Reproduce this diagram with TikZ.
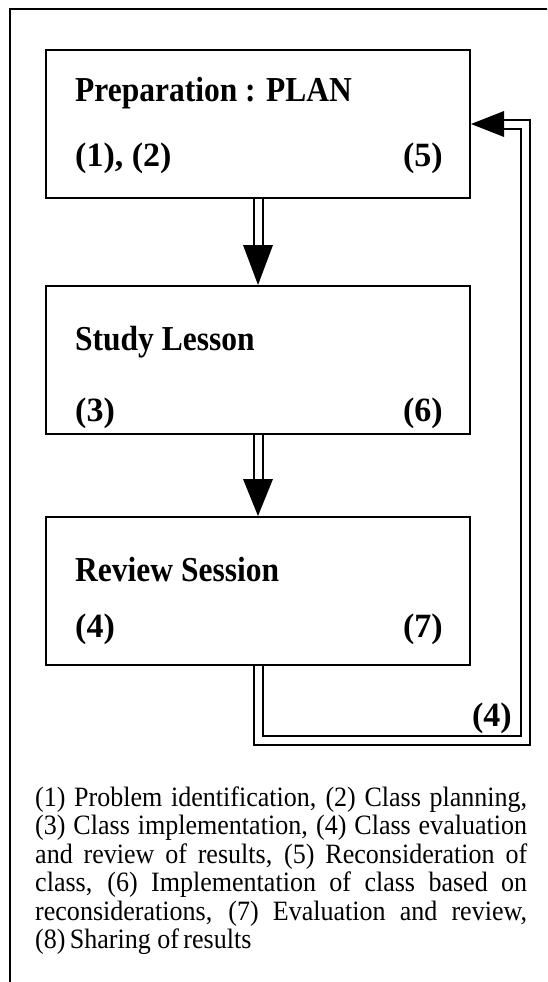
\documentclass[tikz,border=0pt]{standalone}
\usepackage{fontspec}
\setmainfont{Liberation Serif}
\usetikzlibrary{calc}
\newcommand{\fline}[1]{\scalebox{0.93}[1]{\makebox[529pt][s]{#1}}}
\begin{document}
\begin{tikzpicture}[x=1pt,y=-1pt,
  box/.style={draw, line width=2pt, minimum width=424pt, minimum height=148pt, inner sep=0pt, anchor=north west},
  ttl/.style={font=\fontsize{35}{40}\selectfont\bfseries, anchor=base west, inner sep=0pt},
  numl/.style={font=\fontsize{34}{40}\selectfont\bfseries, anchor=base west, inner sep=0pt},
  numr/.style={font=\fontsize{34}{40}\selectfont\bfseries, anchor=base east, inner sep=0pt},
  foot/.style={font=\fontsize{28}{30}\selectfont, anchor=base west, inner sep=0pt},
  dbl/.style={double=white, double distance=7pt, line width=2pt, line join=miter},
  head/.style={fill=black}]
\useasboundingbox (0,0) rectangle (547,982);
\clip (0,0) rectangle (547,982);
\fill[white] (0,0) rectangle (547,982);
% outer frame
\draw[line width=2pt] (10,9) rectangle (600,1040);
% boxes
\node[box] (b1) at (45,49) {};
\node[box] (b2) at (45,285) {};
\node[box] (b3) at (45,516) {};
% texts
\node[ttl] (t1) at (75,101) {\scalebox{0.9}[1]{Preparation : PLAN}};
\node[numl] (n1) at (75,166) {(1), (2)};
\node[numr] (n5) at (443,166) {(5)};
\node[ttl] (t2) at (75,350) {\scalebox{0.9}[1]{Study Lesson}};
\node[numl] (n3) at (75,421) {(3)};
\node[numr] (n6) at (443,421) {(6)};
\node[ttl] (t3) at (75,581) {\scalebox{0.9}[1]{Review Session}};
\node[numl] (n4) at (75,637) {(4)};
\node[numr] (n7) at (443,637) {(7)};
% arrows down
\draw[dbl] (b1.south) -- ($(b2.north)+(0,-40)$);
\fill[head] ($(b2.north)+(-15,-40)$) -- (b2.north) -- ($(b2.north)+(15,-40)$) -- cycle;
\draw[dbl] (b2.south) -- ($(b3.north)+(0,-37)$);
\fill[head] ($(b3.north)+(-15,-37)$) -- (b3.north) -- ($(b3.north)+(15,-37)$) -- cycle;
% feedback loop
\coordinate (c1) at (525,740);
\draw[dbl] (b3.south) |- (c1) |- ($(b1.east)+(33,0)$);
\fill[head] ($(b1.east)+(33,-13)$) -- (b1.east) -- ($(b1.east)+(33,13)$) -- cycle;
\node[numr] (l4) at (512,726) {(4)};
% footnote
\node[foot] (f1) at (35,806) {\fline{(1) Problem identification, (2) Class planning,}};
\node[foot] (f2) at (35,834.5) {\fline{(3) Class implementation, (4) Class evaluation}};
\node[foot] (f3) at (35,863) {\fline{and review of results, (5) Reconsideration of}};
\node[foot] (f4) at (35,891.5) {\fline{class, (6) Implementation of class based on}};
\node[foot] (f5) at (35,920) {\fline{reconsiderations, (7) Evaluation and review,}};
\node[foot] (f6) at (35,948.5) {\scalebox{0.93}[1]{(8)\,Sharing of\,results}};
\end{tikzpicture}
\end{document}
